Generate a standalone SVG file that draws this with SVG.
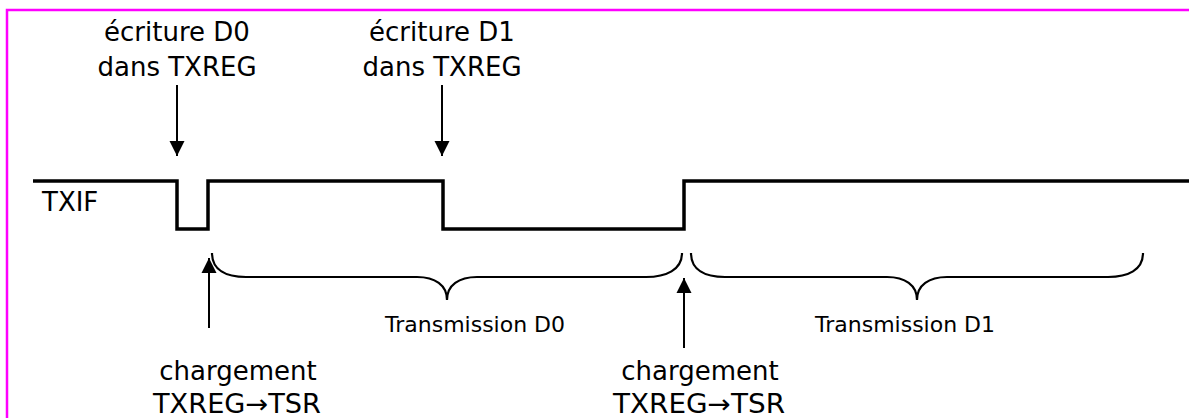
<svg xmlns="http://www.w3.org/2000/svg" width="1189" height="418" viewBox="0 0 1189 418">
<defs>
<style>
.lbl{font-family:"DejaVu Sans",Verdana,sans-serif;font-size:26px;fill:#000;text-anchor:middle}
.st{text-anchor:start}
.sm{font-family:"DejaVu Sans",Verdana,sans-serif;font-size:22px;fill:#000;text-anchor:start}
.arr{stroke:#000;stroke-width:2;fill:none}
.sig{stroke:#000;stroke-width:3.5;fill:none;stroke-linejoin:miter}
.brace{stroke:#000;stroke-width:2.2;fill:none}
</style>
<marker id="ah" markerUnits="userSpaceOnUse" markerWidth="16" markerHeight="16" viewBox="0 0 16 16" refX="15" refY="8" orient="auto">
<path d="M0,0.5 L15,8 L0,15.5 Z" fill="#000"/>
</marker>
</defs>
<rect x="7" y="10" width="1200" height="430" fill="#fff" stroke="#ff00ff" stroke-width="2.5"/>
<g id="signal">
<path class="sig" d="M33,181 H177 V229 H208 V181 H443 V229 H684 V181 H1189"/>
<text class="lbl st" x="42" y="211">TXIF</text>
</g>
<g id="write-d0">
<text class="lbl" x="177" y="41">écriture D0</text>
<text class="lbl" x="177" y="76">dans TXREG</text>
</g>
<g id="write-d1">
<text class="lbl" x="442" y="41">écriture D1</text>
<text class="lbl" x="442" y="76">dans TXREG</text>
</g>
<g id="load-1">
<text class="lbl" x="238" y="380">chargement</text>
<text class="lbl st" x="153" y="413" textLength="168" lengthAdjust="spacingAndGlyphs">TXREG→TSR</text>
</g>
<g id="load-2">
<text class="lbl" x="700" y="380">chargement</text>
<text class="lbl st" x="613" y="413" textLength="172" lengthAdjust="spacingAndGlyphs">TXREG→TSR</text>
</g>
<g id="trans-d0">
<path class="brace" d="M212,253 C212,270 226,277 246,277 L417,277 C435,277 447,285 447,300 C447,285 459,277 477,277 L646,277 C666,277 682,270 682,253"/>
<text class="sm" x="385" y="332">Transmission D0</text>
</g>
<g id="trans-d1">
<path class="brace" d="M691,253 C691,270 705,277 725,277 L887,277 C905,277 917,285 917,300 C917,285 929,277 947,277 L1108,277 C1128,277 1143,270 1143,253"/>
<text class="sm" x="815" y="332">Transmission D1</text>
</g>
<g id="connectors">
<line class="arr" x1="177" y1="85" x2="177" y2="156" marker-end="url(#ah)"/>
<line class="arr" x1="442" y1="85" x2="442" y2="156" marker-end="url(#ah)"/>
<line class="arr" x1="209" y1="328" x2="209" y2="258" marker-end="url(#ah)"/>
<line class="arr" x1="684" y1="348" x2="684" y2="278" marker-end="url(#ah)"/>
</g>
</svg>
